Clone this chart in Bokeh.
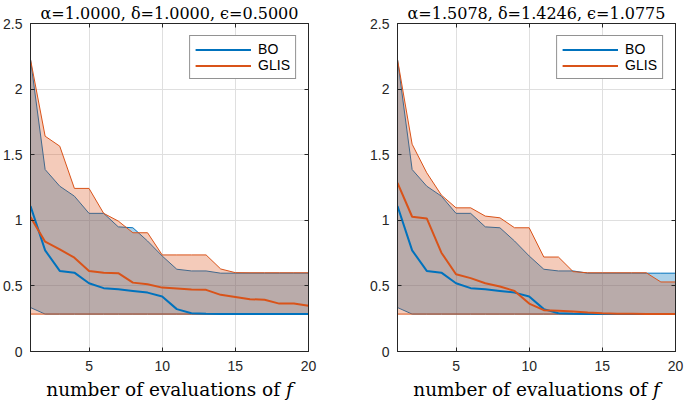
from bokeh.plotting import figure
from bokeh.models import FixedTicker, LinearAxis, Range1d
from bokeh.layouts import row
from bokeh.embed import file_html
from bokeh.resources import INLINE

# ---------------- data ----------------
evals = [1, 2, 3, 4, 5, 6, 7, 8, 9, 10, 11, 12, 13, 14, 15, 16, 17, 18, 19, 20]
x_ticks = [5, 10, 15, 20]
y_ticks = [0, 0.5, 1, 1.5, 2, 2.5]
y_tick_labels = ["0", "0.5", "1", "1.5", "2", "2.5"]
series_names = ["BO", "GLIS"]
titles = ["α=1.0000, δ=1.0000, ϵ=0.5000", "α=1.5078, δ=1.4246, ϵ=1.0775"]
xlabel_text = "number of evaluations of 𝑓"

# BO (same in both panels)
bo_median = [1.108, 0.771, 0.614, 0.601, 0.520, 0.483, 0.475, 0.462, 0.449, 0.419,
             0.323, 0.292, 0.287, 0.286, 0.285, 0.285, 0.285, 0.285, 0.285, 0.285]
bo_upper = [2.226, 1.387, 1.260, 1.184, 1.053, 1.053, 0.950, 0.943, 0.842, 0.728,
            0.627, 0.614, 0.614, 0.597, 0.597, 0.597, 0.597, 0.597, 0.597, 0.597]
bo_lower = [0.335, 0.285, 0.285, 0.285, 0.285, 0.285, 0.285, 0.285, 0.285, 0.285,
            0.285, 0.285, 0.285, 0.285, 0.285, 0.285, 0.285, 0.285, 0.285, 0.285]

# GLIS, panel 1
glis1_median = [1.025, 0.837, 0.779, 0.715, 0.614, 0.601, 0.597, 0.525, 0.513, 0.487,
                0.480, 0.472, 0.470, 0.432, 0.416, 0.399, 0.394, 0.365, 0.365, 0.348]
glis1_upper = [2.226, 1.641, 1.565, 1.243, 1.243, 1.053, 0.994, 0.905, 0.905, 0.736,
               0.736, 0.736, 0.736, 0.629, 0.601, 0.600, 0.600, 0.600, 0.600, 0.600]
glis1_lower = [0.285, 0.285, 0.285, 0.285, 0.285, 0.285, 0.285, 0.285, 0.285, 0.285,
               0.285, 0.285, 0.285, 0.285, 0.285, 0.285, 0.285, 0.285, 0.285, 0.285]

# GLIS, panel 2
glis2_median = [1.286, 1.027, 1.014, 0.753, 0.589, 0.559, 0.520, 0.495, 0.462, 0.365,
                0.315, 0.310, 0.305, 0.297, 0.292, 0.288, 0.287, 0.286, 0.285, 0.285]
glis2_upper = [2.226, 1.580, 1.362, 1.192, 1.095, 1.095, 1.032, 1.019, 0.943, 0.943,
               0.720, 0.720, 0.609, 0.600, 0.600, 0.600, 0.600, 0.600, 0.530, 0.530]
glis2_lower = [0.285, 0.285, 0.285, 0.285, 0.285, 0.285, 0.285, 0.285, 0.285, 0.285,
               0.285, 0.285, 0.285, 0.285, 0.285, 0.285, 0.285, 0.285, 0.285, 0.285]

BLUE = "#0072BD"
ORANGE = "#D95319"
AXC = "#262626"
GRIDC = "#dfdfdf"
TICKFONT = "Liberation Sans"
SERIF = "DejaVu Serif"


def make_panel(title, g_med, g_up, g_lo, width, mb_left, mb_right):
    p = figure(width=width, height=403,
               x_range=Range1d(1, 20), y_range=Range1d(0, 2.5),
               output_backend="svg", toolbar_location=None,
               min_border_left=mb_left, min_border_right=mb_right,
               min_border_top=22, min_border_bottom=52)
    p.background_fill_color = "white"
    p.border_fill_color = "white"
    p.outline_line_color = AXC
    p.outline_line_width = 1

    p.title.text = title
    p.title.align = "center"
    p.title.text_font = SERIF
    p.title.text_font_size = "16px"
    p.title.text_font_style = "normal"
    p.title.text_color = "black"
    p.title.standoff = 2
    p.title.offset = 0

    # main axes
    p.xaxis.ticker = FixedTicker(ticks=x_ticks)
    p.yaxis.ticker = FixedTicker(ticks=y_ticks)
    p.yaxis.major_label_overrides = {t: l for t, l in zip(y_ticks, y_tick_labels)}
    for ax in (p.xaxis[0], p.yaxis[0]):
        ax.major_tick_in = 4
        ax.major_tick_out = 0
        ax.minor_tick_in = 0
        ax.minor_tick_out = 0
        ax.axis_line_color = AXC
        ax.major_tick_line_color = AXC
        ax.major_label_text_font = TICKFONT
        ax.major_label_text_font_size = "14px"
        ax.major_label_text_color = AXC
    p.xaxis.major_label_standoff = 9
    p.yaxis.major_label_standoff = 8
    p.xaxis.axis_label = xlabel_text
    p.xaxis.axis_label_text_font = SERIF
    p.xaxis.axis_label_text_font_size = "18.5px"
    p.xaxis.axis_label_text_font_style = "normal"
    p.xaxis.axis_label_text_color = "black"
    p.xaxis.axis_label_standoff = 5

    p.xgrid.grid_line_color = GRIDC
    p.ygrid.grid_line_color = GRIDC

    # box ticks on top / right (no labels)
    for side, tick in (("above", x_ticks), ("right", y_ticks)):
        ax = LinearAxis(ticker=FixedTicker(ticks=tick),
                        major_label_text_font_size="1px", major_label_text_color=None,
                        major_label_standoff=0,
                        major_tick_in=4, major_tick_out=0,
                        minor_tick_in=0, minor_tick_out=0,
                        axis_line_color=AXC, major_tick_line_color=AXC)
        p.add_layout(ax, side)

    # bands
    p.varea(x=evals, y1=bo_lower, y2=bo_upper, fill_color=BLUE, fill_alpha=0.33)
    p.line(evals, bo_upper, line_color=BLUE, line_width=1)
    p.line(evals, bo_lower, line_color=BLUE, line_width=1)
    p.varea(x=evals, y1=g_lo, y2=g_up, fill_color=ORANGE, fill_alpha=0.3)
    p.line(evals, g_up, line_color=ORANGE, line_width=1)
    p.line(evals, g_lo, line_color=ORANGE, line_width=1)

    # medians
    p.line(evals, bo_median, line_color=BLUE, line_width=2, legend_label=series_names[0])
    p.line(evals, g_med, line_color=ORANGE, line_width=2, legend_label=series_names[1])

    lg = p.legend[0]
    lg.location = "top_right"
    lg.margin = 12
    lg.padding = 5
    lg.spacing = 0
    lg.glyph_width = 56
    lg.glyph_height = 15
    lg.label_height = 15
    lg.label_standoff = 7
    lg.label_text_font = TICKFONT
    lg.label_text_font_size = "14px"
    lg.label_text_color = "black"
    lg.border_line_color = AXC
    lg.border_line_width = 1
    lg.background_fill_color = "white"
    lg.background_fill_alpha = 1
    return p


p1 = make_panel(titles[0], glis1_median, glis1_upper, glis1_lower, 365, 30, 57)
p2 = make_panel(titles[1], glis2_median, glis2_upper, glis2_lower, 320, 32, 10)

layout = row(p1, p2)
open("out.html", "w").write(file_html(layout, INLINE))
